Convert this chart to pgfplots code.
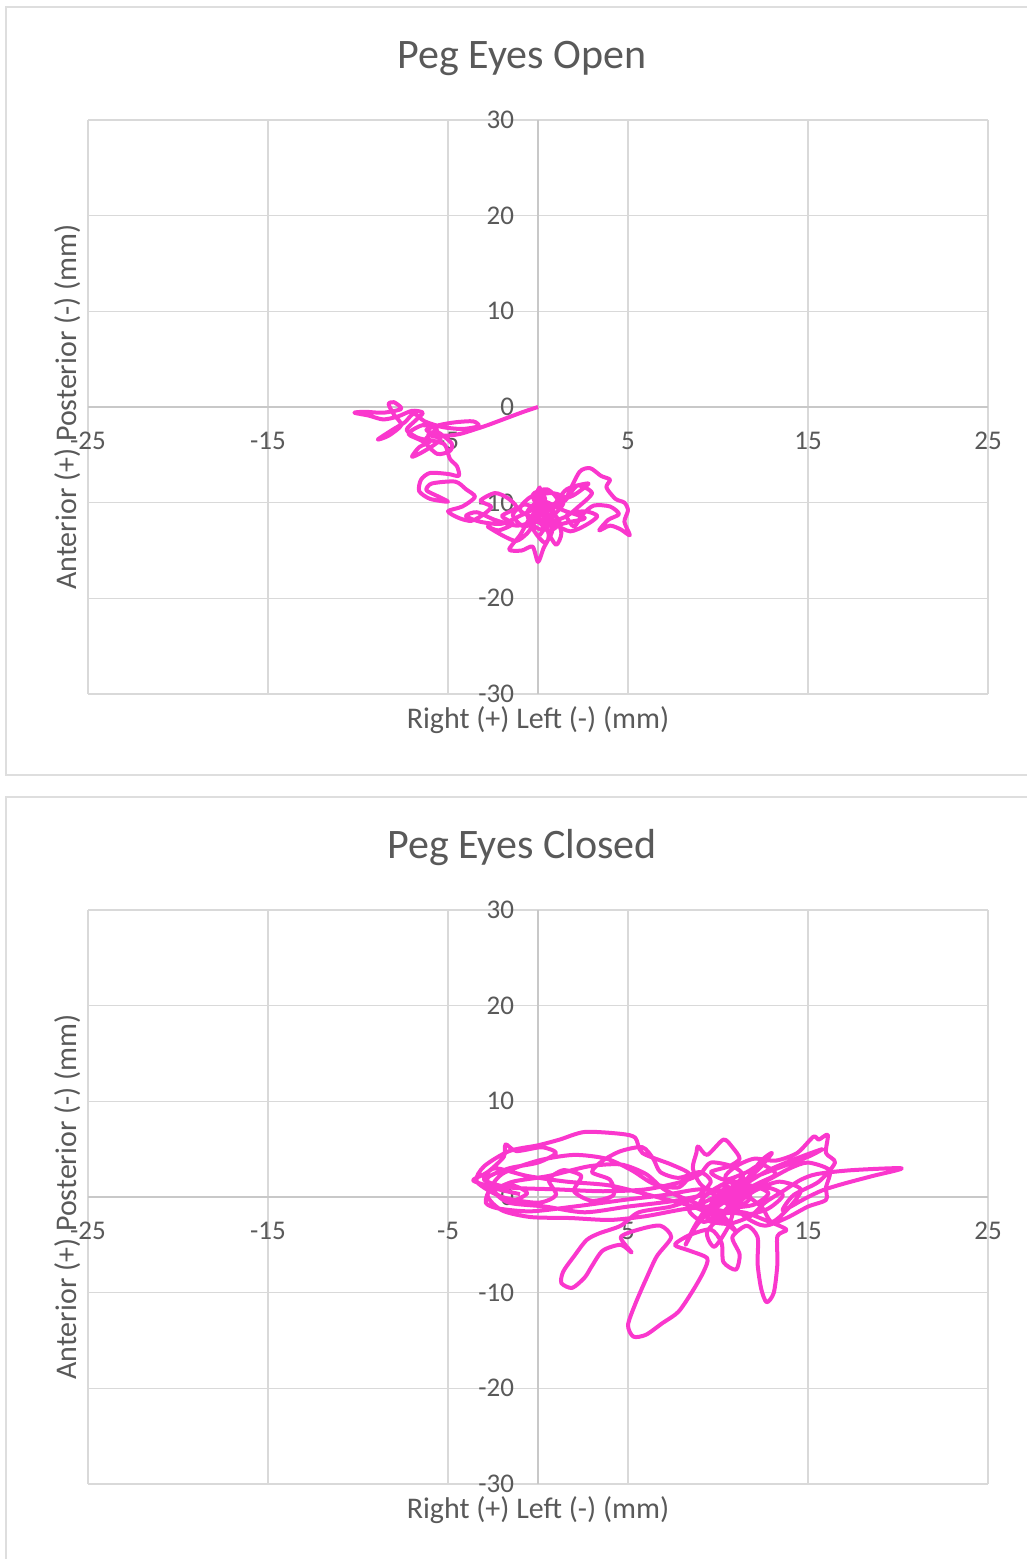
\documentclass[border=0pt]{standalone}
\usepackage{fontspec}
\setmainfont{Carlito}
\usepackage{pgfplots}
\pgfplotsset{compat=1.18}
\definecolor{pegpink}{RGB}{250,55,205}
\definecolor{gridgray}{RGB}{217,217,217}
\definecolor{axisgray}{RGB}{200,200,200}
\definecolor{textgray}{RGB}{89,89,89}
\definecolor{panelgray}{RGB}{222,222,222}
\pgfplotsset{
  pegaxis/.style={
    scale only axis, width=450pt, height=287pt,
    xmin=-25, xmax=25, ymin=-30, ymax=30,
    axis lines=middle,
    axis line style={draw=axisgray, line width=0.9pt, -},
    xtick={-25,-15,-5,5,15,25}, xticklabels={-25,-15,-5,5,15,25},
    ytick={-30,-20,-10,0,10,20,30}, yticklabels={-30,-20,-10,0,10,20,30},
    hide obscured x ticks=false, hide obscured y ticks=false,
    grid=major, grid style={draw=gridgray, line width=0.75pt},
    major tick length=0pt,
    tick label style={font=\fontsize{13.5}{16}\selectfont, text=textgray},
    xticklabel style={yshift=-9pt},
    yticklabel style={xshift=-8.5pt},
    xlabel={Right (+) Left (-) (mm)},
    ylabel={Anterior (+) Posterior (-) (mm)},
    every axis x label/.style={at={(rel axis cs:0.5,0)}, anchor=center, yshift=-13pt,
      font=\fontsize{15}{18}\selectfont, text=textgray},
    every axis y label/.style={at={(rel axis cs:0,0.5)}, rotate=90, anchor=south, inner sep=0pt, yshift=3.5pt,
      font=\fontsize{15}{18}\selectfont, text=textgray},
    every axis title/.style={at={(rel axis cs:0.4822,1)}, anchor=center, yshift=31pt,
      font=\fontsize{21}{25}\selectfont, text=textgray},
  },
  pegline/.style={no marks, draw=pegpink, line width=2pt, line join=round, smooth, tension=0.45},
}
\begin{document}
\begin{tikzpicture}
\path[use as bounding box] (0,0) rectangle (513.5pt,779.5pt);
\draw[panelgray, line width=0.9pt] (513.5pt,776pt) -- (3pt,776pt) -- (3pt,392pt) -- (513.5pt,392pt);
\draw[panelgray, line width=0.9pt] (513.5pt,381pt) -- (3pt,381pt) -- (3pt,0pt);
\begin{axis}[pegaxis, at={(44pt,432.5pt)}, anchor=south west, title={Peg Eyes Open}]
\addplot[pegline] coordinates {
(0,0) (-0.8,-0.5) (-1.8,-1.2) (-2.8,-1.9) (-3.6,-2.4) (-4.3,-2.8) (-5.0,-3.0) (-5.6,-2.9)
(-6.2,-2.4) (-5.5,-1.9) (-4.6,-1.6) (-3.6,-1.5) (-3.3,-2.0) (-4.2,-2.3) (-5.3,-2.1) (-6.3,-1.5)
(-6.9,-0.7) (-7.4,-1.6) (-8.1,-2.4) (-8.9,-3.4) (-8.3,-3.0) (-7.6,-1.9) (-8.0,-0.8) (-8.3,0.3)
(-8.0,0.5) (-7.6,-0.2) (-8.6,-0.6) (-9.6,-0.5) (-10.2,-0.6) (-9.4,-0.9) (-8.6,-1.3) (-7.8,-1.0)
(-7.0,-0.4) (-6.4,-0.6) (-6.8,-1.4) (-7.3,-2.4) (-6.7,-3.2) (-6.0,-3.6) (-6.6,-4.2) (-7.0,-5.2)
(-6.5,-4.8) (-5.8,-4.0) (-5.4,-3.3) (-6.1,-2.9) (-5.6,-2.6) (-4.8,-3.8) (-4.9,-4.6) (-5.6,-4.9)
(-6.4,-3.6) (-7.2,-2.8) (-6.4,-1.9) (-5.6,-2.4) (-6.2,-3.3) (-5.2,-3.9)
(-4.9,-5.4) (-4.5,-6.2) (-4.4,-7.2) (-5.0,-7.0) (-6.0,-6.9) (-6.5,-7.6) (-6.6,-8.8) (-6.0,-9.6)
(-5.0,-9.9) (-5.6,-9.3) (-6.2,-8.7) (-5.9,-8.0) (-4.6,-7.8) (-4.0,-8.6) (-3.5,-9.4) (-4.2,-10.4)
(-5.0,-10.9) (-4.4,-11.6) (-3.7,-11.9) (-3.0,-11.2) (-2.6,-10.4) (-3.2,-9.8) (-2.4,-9.0) (-1.7,-9.5)
(-1.2,-10.5) (-2.0,-11.4) (-1.4,-12.2) (-2.2,-12.9) (-2.8,-12.5) (-1.9,-13.5) (-1.2,-14.0) (-0.6,-13.2)
(-0.2,-12.0) (0.0,-10.0) (0.1,-8.4) (-0.2,-9.8) (0.3,-11.5) (0.6,-13.5) (0.3,-14.8) (0.0,-16.2)
(-0.3,-14.6) (-0.9,-15.0) (-1.6,-14.9) (-1.0,-13.4) (-0.4,-11.5) (0.5,-10.0) (1.0,-11.5) (1.3,-13.2)
(1.0,-14.4) (0.5,-12.6) (0.9,-10.5) (1.6,-9.6) (0.8,-9.0) (-0.4,-9.4) (-1.0,-10.8) (0.4,-12.0)
(1.5,-11.5) (2.2,-10.5) (3.0,-9.0) (2.2,-8.2) (1.6,-9.5) (2.3,-6.8) (2.9,-6.4) (3.5,-7.2)
(4.0,-7.6) (3.8,-8.4) (4.3,-9.6) (4.8,-10.0) (5.0,-10.8) (4.8,-12.0) (5.1,-13.4) (4.6,-12.8)
(4.0,-12.4) (3.4,-12.9) (3.9,-11.8) (4.5,-11.2) (4.0,-10.4) (3.1,-10.3) (2.5,-11.2) (2.0,-12.5)
(1.6,-11.3) (2.6,-10.9) (3.3,-11.4) (2.7,-12.3) (1.8,-13.0) (0.9,-12.2) (0.2,-11.0) (-0.3,-9.2)
(0.5,-8.6) (1.1,-9.8) (0.3,-10.8) (-0.5,-11.9) (0.2,-12.8) (0.8,-11.5) (1.4,-10.0) (0.0,-10.5)
(-0.8,-10.2) (-1.4,-11.3) (-0.8,-12.5) (0.0,-12.0)
(0.6,-13.0) (1.2,-12.0) (0.4,-10.2) (0.0,-8.8) (0.4,-9.6) (-0.2,-11.0) (0.6,-12.4) (1.8,-12.0)
(2.6,-11.6) (1.4,-10.8) (0.2,-9.8) (-0.6,-11.0) (-0.2,-13.0) (0.4,-14.2) (0.8,-12.8) (0.3,-11.2)
(1.0,-10.0) (2.0,-9.2) (2.8,-8.0) (1.6,-8.6) (0.8,-10.4) (-0.4,-12.0) (-1.2,-12.4) (-2.4,-11.8)
(-3.4,-11.0) (-4.0,-11.4) (-3.2,-12.0) (-2.0,-12.2) (-0.8,-11.2) (0.2,-10.4) (0.6,-11.8) (0.1,-13.4)
};
\end{axis}
\begin{axis}[pegaxis, at={(44pt,37.5pt)}, anchor=south west, title={Peg Eyes Closed}]
\addplot[pegline] coordinates {
(-1.0,0.3) (-2.2,0.8) (-3.2,1.4) (-3.6,1.8) (-2.8,2.6) (-1.9,4.2) (-1.8,5.5) (-1.2,4.8)
(0.2,5.2) (1.0,4.6) (0.0,3.6) (-1.6,3.0) (-2.8,2.0) (-2.5,0.6) (-1.5,-0.4) (-0.6,0.4)
(-1.4,1.2) (-2.6,0.9) (-2.9,-0.6) (-2.2,-1.2) (-0.4,-1.5) (2.0,-1.0) (4.8,-0.3) (7.0,0.2)
(9.0,0.8) (10.8,0.4) (10.0,-0.8) (8.0,-1.3) (6.0,-2.0) (4.0,-2.4) (1.8,-2.2) (-0.4,-2.1)
(-2.0,-1.4) (-2.8,0.2) (-2.0,2.4) (0.0,3.8) (2.0,4.4) (3.8,4.0) (5.2,2.8) (6.4,1.4)
(7.8,1.0) (8.4,2.4) (7.4,3.4) (5.8,4.6) (5.4,6.2) (4.6,6.6) (2.6,6.8) (1.2,6.0)
(0.0,5.4) (-1.6,4.8) (-3.0,3.2) (-3.4,1.6) (-2.0,0.0) (0.0,-0.6) (1.0,0.2) (0.6,1.8)
(1.4,2.8) (2.4,2.2) (2.0,0.6) (3.0,-0.4) (4.2,0.2) (4.0,1.8) (3.0,2.6) (3.6,3.8)
(4.6,4.8) (5.8,5.2) (6.4,4.0) (6.8,2.6) (7.8,2.0) (9.0,2.6) (9.6,1.6) (8.8,0.0)
(7.4,-1.0) (5.6,-1.6) (4.6,-3.0) (3.4,-3.8) (2.7,-4.5) (2.0,-6.2) (1.4,-7.8) (1.3,-9.0)
(1.9,-9.5) (2.6,-8.4) (3.0,-7.2) (3.6,-5.6) (4.6,-5.0) (5.2,-5.8) (4.6,-4.2) (5.6,-3.4)
(6.8,-3.0) (7.4,-4.2) (6.6,-6.2) (6.0,-8.6) (5.4,-11.2) (5.0,-13.4) (5.3,-14.6) (6.0,-14.4)
(6.9,-13.2) (7.8,-12.0) (8.6,-9.8) (9.2,-7.8) (9.4,-6.4) (8.4,-5.6) (7.6,-5.0) (8.4,-4.0)
(9.6,-3.4) (10.2,-4.8) (10.3,-6.8) (11.0,-7.6) (11.2,-6.0) (10.8,-4.2) (11.6,-3.0) (12.2,-4.2)
(12.2,-7.0) (12.4,-9.6) (12.7,-11.0) (13.1,-10.0) (13.3,-7.0) (13.3,-4.1) (13.8,-3.4) (12.6,-2.4)
(11.4,-1.6) (10.2,-1.8) (9.2,-2.6) (8.4,-1.4) (9.4,-0.4) (10.6,0.6) (11.8,1.2) (12.8,0.4)
(12.0,-0.8) (10.8,-1.0) (9.8,0.2) (9.0,1.4) (8.6,3.0) (8.8,4.6) (8.9,5.3) (9.4,4.4)
(10.3,6.0) (10.8,5.2) (11.2,4.0) (10.6,3.2) (9.6,2.6) (10.4,1.8) (11.6,2.6) (12.4,3.4)
(13.2,2.4) (12.2,1.4) (11.0,0.2) (10.0,-1.0) (9.4,-2.4) (10.6,-2.8) (11.8,-2.0) (12.6,-0.6)
(13.6,0.6) (14.6,1.8) (15.5,2.4) (17.4,2.8) (20.2,3.0) (18.6,2.2) (17.0,1.4) (15.8,0.7)
(14.8,-0.2) (13.6,-1.4) (14.2,0.2) (15.6,1.6) (16.5,3.6) (16.0,4.6) (16.1,6.5) (15.6,6.0)
(15.3,6.3) (14.4,4.6) (13.2,3.8) (12.0,4.0) (11.0,3.2) (10.4,2.0) (11.6,0.8) (12.8,1.8)
(14.0,3.0) (15.0,3.6) (16.2,2.8) (16.0,1.0) (16.0,-0.3) (15.0,-1.0) (13.8,-2.2) (12.6,-3.0)
(11.6,-2.2) (10.6,-0.4) (10.0,1.0) (11.0,1.6) (11.8,0.0) (11.0,-1.2) (9.8,-1.4) (10.4,0.4)
(11.4,2.2) (10.8,3.2) (9.6,3.6) (9.0,2.4)
(8.0,1.6) (6.0,0.8) (3.6,0.6) (1.0,0.8) (-1.6,1.0) (-3.0,1.8) (-2.4,3.0) (-0.6,2.2)
(1.6,1.6) (4.0,1.2) (6.6,0.0) (8.6,-1.0) (10.2,-2.4) (11.0,-3.6) (10.4,-2.2) (9.6,-0.8)
(10.8,0.8) (12.2,2.2) (13.6,3.2) (15.0,4.2) (15.8,5.0) (14.6,4.2) (12.8,2.8) (11.2,1.0)
(10.0,-0.2) (9.2,-1.6) (8.6,-3.4) (8.2,-5.0) (8.8,-3.0) (9.8,-1.0) (11.2,0.4) (12.4,-1.0)
(13.0,-2.6) (14.0,-1.0) (14.6,0.8) (13.4,1.6) (12.0,0.6) (10.6,-1.4) (9.4,-3.6) (9.8,-5.2)
(10.6,-3.0) (11.0,-0.6) (11.6,1.8) (12.4,3.8) (13.0,4.6) (12.2,2.8) (11.0,1.2) (9.6,0.4)
(7.6,-0.4) (5.0,-1.0) (2.6,-1.6) (0.4,-1.0) (-1.6,-0.6) (-2.4,0.6) (-1.4,1.6) (0.6,2.2)
(2.8,3.2) (4.6,3.4) (6.0,2.4) (7.0,0.8) (8.2,-0.2) (9.6,-1.2) (11.6,-1.8) (12.8,-1.2)
(13.6,0.2) (12.6,1.0) (11.0,-0.2) (10.0,-2.0) (9.0,-0.6) (10.2,1.2) (11.4,0.0) (10.6,-1.6)
};
\end{axis}
\end{tikzpicture}
\end{document}
